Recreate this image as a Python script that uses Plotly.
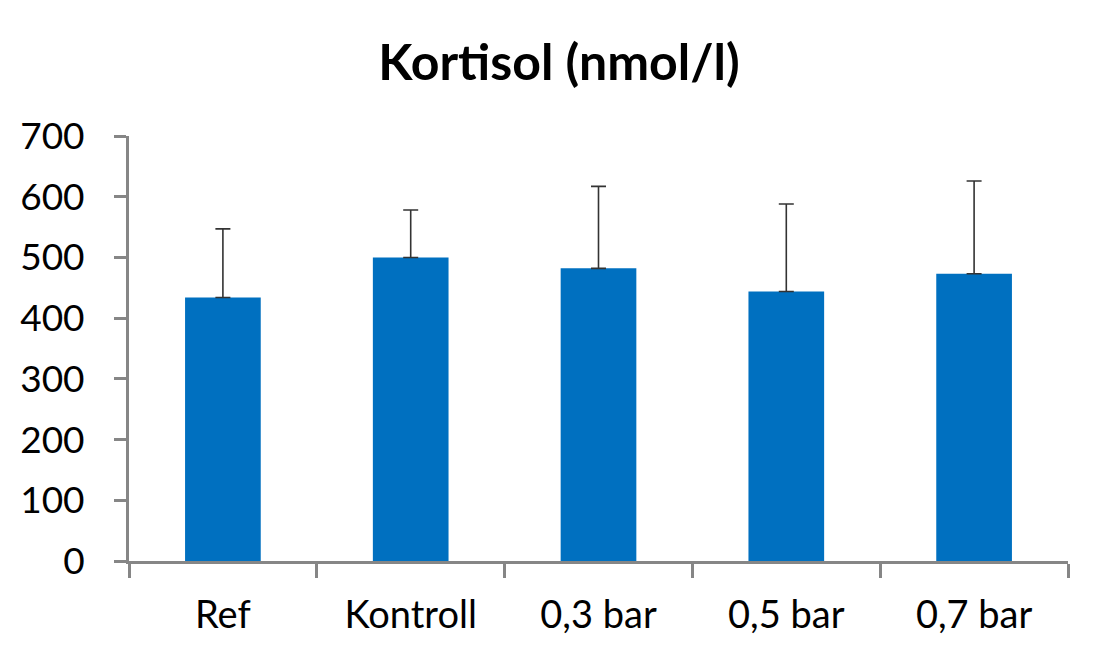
import plotly.graph_objects as go

categories = ["Ref", "Kontroll", "0,3 bar", "0,5 bar", "0,7 bar"]
values = [434, 500, 482, 444, 473]
errors_up = [113, 78, 135, 144, 153]
y_ticks = [0, 100, 200, 300, 400, 500, 600, 700]

fig = go.Figure()
fig.add_trace(go.Bar(
    x=categories,
    y=values,
    marker=dict(color="#0070C0", line=dict(width=0)),
    error_y=dict(type="data", symmetric=False, array=errors_up,
                 arrayminus=[0] * len(values),
                 color="#333333", thickness=1.6, width=7.5),
))

axis_col = "#868686"
fig.update_layout(
    width=1102, height=661,
    paper_bgcolor="white", plot_bgcolor="white",
    margin=dict(l=117, r=42, t=128, b=108),
    bargap=0.597,
    showlegend=False,
    title=dict(text="<b>Kortisol (nmol/l)</b>", x=0.5, xanchor="center",
               xref="container", yref="container",
               y=0.918, yanchor="middle",
               font=dict(family="Lato", size=50, color="black")),
    font=dict(family="Lato", color="black"),
)
fig.update_xaxes(
    type="category", tickson="boundaries", ticks="outside", ticklen=14,
    tickwidth=3, tickcolor=axis_col, showline=True, linecolor=axis_col,
    linewidth=3, showgrid=False, tickfont=dict(size=38, family="Lato"),
    ticklabelstandoff=18,
    range=[-0.5, 4.5],
)
fig.update_yaxes(
    range=[0, 700], tickvals=y_ticks, ticks="outside", ticklen=12,
    tickwidth=3, tickcolor=axis_col, showline=True, linecolor=axis_col,
    linewidth=3, showgrid=False, zeroline=False,
    tickfont=dict(size=37, family="Lato"),
    ticklabelstandoff=22,
)

fig.write_html("out.html")
